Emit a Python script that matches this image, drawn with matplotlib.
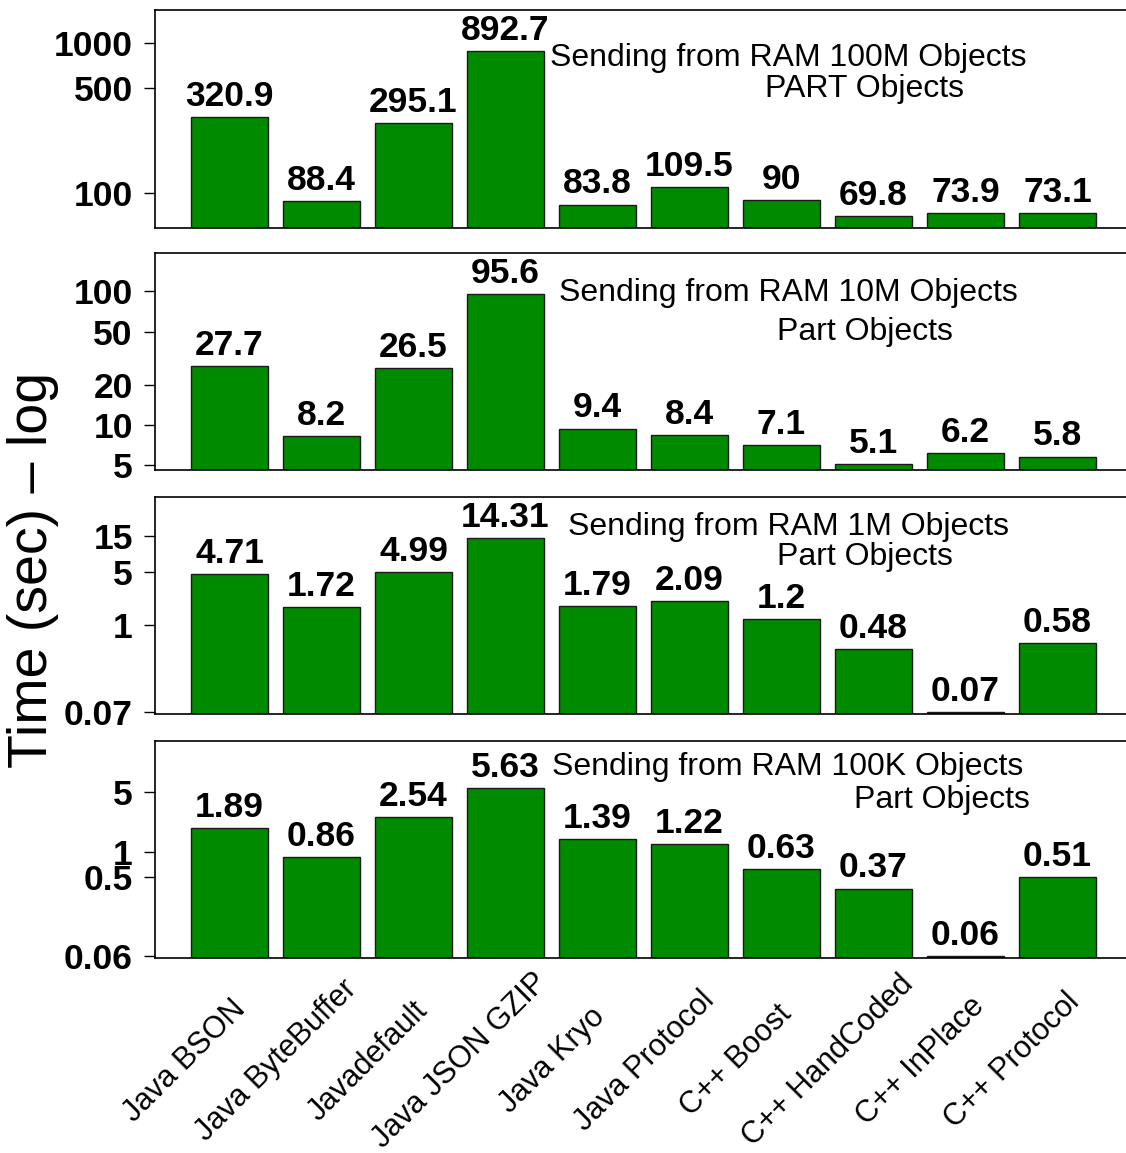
import matplotlib.pyplot as plt
import matplotlib.transforms as mtransforms

plt.rcParams['font.family'] = ['Liberation Sans', 'DejaVu Sans']

formats = ["Java BSON", "Java ByteBuffer", "Javadefault", "Java JSON GZIP",
           "Java Kryo", "Java Protocol", "C++ Boost", "C++ HandCoded",
           "C++ InPlace", "C++ Protocol"]

times_100m = [320.9, 88.4, 295.1, 892.7, 83.8, 109.5, 90, 69.8, 73.9, 73.1]
times_10m = [27.7, 8.2, 26.5, 95.6, 9.4, 8.4, 7.1, 5.1, 6.2, 5.8]
times_1m = [4.71, 1.72, 4.99, 14.31, 1.79, 2.09, 1.2, 0.48, 0.07, 0.58]
times_100k = [1.89, 0.86, 2.54, 5.63, 1.39, 1.22, 0.63, 0.37, 0.06, 0.51]

labels_100m = ["320.9", "88.4", "295.1", "892.7", "83.8", "109.5", "90", "69.8", "73.9", "73.1"]
labels_10m = ["27.7", "8.2", "26.5", "95.6", "9.4", "8.4", "7.1", "5.1", "6.2", "5.8"]
labels_1m = ["4.71", "1.72", "4.99", "14.31", "1.79", "2.09", "1.2", "0.48", "0.07", "0.58"]
labels_100k = ["1.89", "0.86", "2.54", "5.63", "1.39", "1.22", "0.63", "0.37", "0.06", "0.51"]

titles = [("Sending from RAM 100M Objects", "PART Objects"),
          ("Sending from RAM 10M Objects", "Part Objects"),
          ("Sending from RAM 1M Objects", "Part Objects"),
          ("Sending from RAM 100K Objects", "Part Objects")]

yticks = [[100, 500, 1000], [5, 10, 20, 50, 100], [0.07, 1, 5, 15], [0.06, 0.5, 1, 5]]
ylims = [(58.4, 1669), (4.6, 194), (0.0658, 50), (0.0569, 19.8)]

# panel placement in pixels (top, bottom), converted to figure fraction below
W, H = 1126, 1153
panel_px = [(10, 228), (253, 470), (497, 714), (741, 958)]
# title line positions: (x1, y1, x2, y2) in axes fraction
title_pos = [(0.652, 0.745, 0.731, 0.601),
             (0.652, 0.779, 0.731, 0.599),
             (0.652, 0.825, 0.731, 0.687),
             (0.652, 0.843, 0.810, 0.691)]

series = [times_100m, times_10m, times_1m, times_100k]
bar_labels = [labels_100m, labels_10m, labels_1m, labels_100k]

fig = plt.figure(figsize=(W / 100, H / 100), dpi=100)
x = list(range(len(formats)))
left_px = 155

for k in range(4):
    top, bot = panel_px[k]
    ax = fig.add_axes([left_px / W, 1 - bot / H, (W - left_px) / W, (bot - top) / H])
    ax.set_yscale('log')
    lo, hi = ylims[k]
    vals = series[k]
    ax.bar(x, [v - lo for v in vals], bottom=lo, width=0.837,
           color='#008a00', edgecolor='#1a1a1a', linewidth=1.0)
    ax.set_ylim(lo, hi)
    ax.set_xlim(-0.81, 9.745)
    for xi, v, lab in zip(x, vals, bar_labels[k]):
        ax.annotate(lab, (xi, v), xytext=(0, 8), textcoords='offset points',
                    ha='center', va='baseline', fontsize=25.5, fontweight='bold')
    ax.yaxis.set_minor_locator(plt.NullLocator())
    ax.set_yticks(yticks[k])
    ax.set_yticklabels([f"{t:g}" for t in yticks[k]], fontsize=25.5, fontweight='bold')
    ax.tick_params(axis='y', length=8, width=1, pad=8)
    ax.spines['right'].set_visible(False)
    for s in ['left', 'top', 'bottom']:
        ax.spines[s].set_linewidth(1.2)
    t1, t2 = titles[k]
    x1, y1, x2, y2 = title_pos[k]
    ax.text(x1, y1, t1, transform=ax.transAxes, ha='center', va='baseline', fontsize=23)
    ax.text(x2, y2, t2, transform=ax.transAxes, ha='center', va='baseline', fontsize=23)
    if k < 3:
        ax.set_xticks([])
    else:
        ax.set_xticks(x)
        ax.set_xticklabels(formats, fontsize=22, rotation=45, ha='center',
                           va='center', rotation_mode='anchor')
        ax.tick_params(axis='x', length=0, pad=74)
        shift = mtransforms.ScaledTranslation(-0.45, 0, fig.dpi_scale_trans)
        for lbl in ax.get_xticklabels():
            lbl.set_transform(lbl.get_transform() + shift)

fig.text(33 / W, 1 - 570 / H, "Time (sec) \u2013 log", rotation=90,
         ha='center', va='center', fontsize=40)

fig.savefig('out.png', dpi=100)
